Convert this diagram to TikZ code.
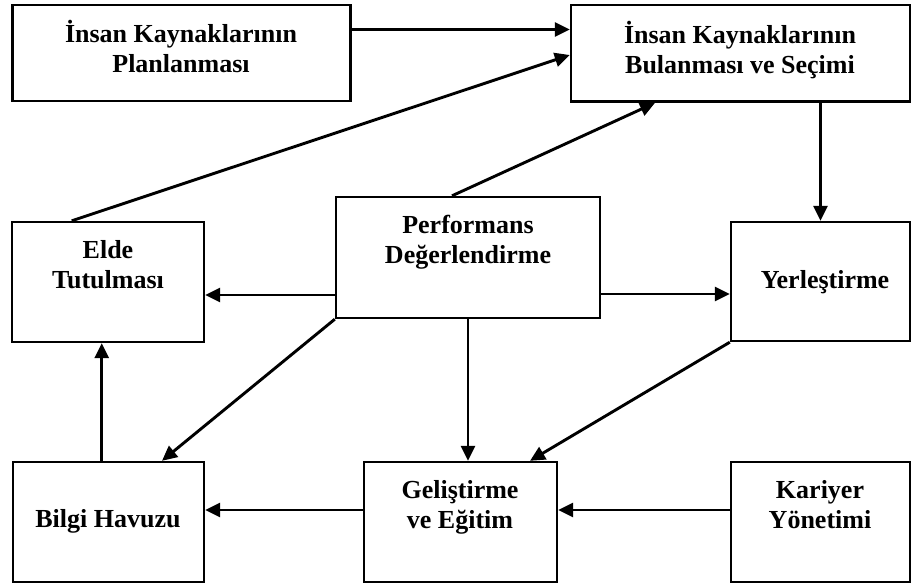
\documentclass[tikz,border=0pt]{standalone}
\usepackage{fontspec}
\setmainfont{Liberation Serif}
\usetikzlibrary{arrows.meta}
\begin{document}
\begin{tikzpicture}[x=1pt,y=-1pt,
  box/.style={draw,line width=2.4pt,inner sep=0pt},
  lbl/.style={font=\fontsize{26}{30}\selectfont\bfseries,align=center,inner sep=0pt,anchor=base},
  conn/.style={line width=2.9pt,-{Triangle[length=15pt,width=14pt]}}]
\useasboundingbox (0,0) rectangle (912,586);
% boxes
\node[box,minimum width=338pt,minimum height=95.7pt] (plan) at (181.5,53) {};
\node[box,minimum width=339pt,minimum height=96.7pt] (sel) at (740.5,53.3) {};
\node[box,minimum width=192pt,minimum height=120pt] (elde) at (108,282) {};
\node[box,minimum width=264pt,minimum height=121pt] (perf) at (468,257.5) {};
\node[box,minimum width=179pt,minimum height=119pt] (yer) at (820.5,281.5) {};
\node[box,minimum width=191pt,minimum height=120pt] (bilgi) at (108.5,522) {};
\node[box,minimum width=193pt,minimum height=120pt] (gel) at (460.5,522) {};
\node[box,minimum width=179pt,minimum height=120pt] (kar) at (820.5,522) {};
% labels (base = baseline of last line)
\node[lbl] (tplan) at (181,73) {İnsan Kaynaklarının\\Planlanması};
\node[lbl] (tsel) at (740,74) {İnsan Kaynaklarının\\Bulanması ve Seçimi};
\node[lbl] (telde) at (108,288) {Elde\\Tutulması};
\node[lbl] (tperf) at (468,263) {Performans\\Değerlendirme};
\node[lbl] (tyer) at (825,288) {Yerleştirme};
\node[lbl] (tbilgi) at (108,527) {Bilgi Havuzu};
\node[lbl] (tgel) at (460,528) {Geliştirme\\ve Eğitim};
\node[lbl] (tkar) at (820,528) {Kariyer\\Yönetimi};
% connectors
\draw[conn] (plan.east |- 0,29.5) -- (sel.west |- 0,29.5);
\draw[conn] (elde.north -| 71.7,0) -- (sel.west |- 0,55);
\draw[conn] (perf.north -| 452,0) -- (sel.south -| 655,0);
\draw[conn] (sel.south -| yer.north) -- (yer.north);
\draw[conn] (perf.west |- 0,295) -- (elde.east |- 0,295);
\draw[conn] (perf.east |- 0,294) -- (yer.west |- 0,294);
\draw[conn] (perf.south west) -- (bilgi.north -| 162,0);
\draw[conn] (perf.south) -- (gel.north -| perf.south);
\draw[conn] (yer.south west) -- (gel.north -| 530,0);
\draw[conn] (bilgi.north -| 101.7,0) -- (elde.south -| 101.7,0);
\draw[conn] (gel.west |- 0,510) -- (bilgi.east |- 0,510);
\draw[conn] (kar.west |- 0,510) -- (gel.east |- 0,510);
\end{tikzpicture}
\end{document}
